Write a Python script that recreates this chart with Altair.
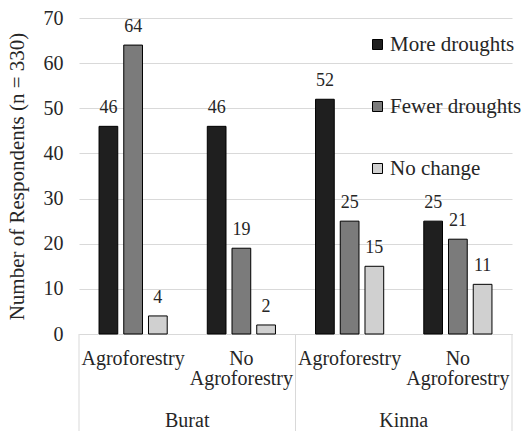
import altair as alt
import pandas as pd

# Survey counts per site / land-use group and perceived drought trend
sites = ["Burat", "Burat", "Kinna", "Kinna"]
groups = ["Agroforestry", "No Agroforestry", "Agroforestry", "No Agroforestry"]
series = ["More droughts", "Fewer droughts", "No change"]
more_droughts = [46, 46, 52, 25]
fewer_droughts = [64, 19, 25, 21]
no_change = [4, 2, 15, 11]

colors = ["#1f1f1f", "#7b7b7b", "#d0d0d0"]
FONT = "Liberation Serif"
TXT = "#262626"

keys = [f"{s}|{g}" for s, g in zip(sites, groups)]

rows = []
for i, k in enumerate(keys):
    for name, vals in zip(series, [more_droughts, fewer_droughts, no_change]):
        rows.append({"key": k, "series": name, "value": vals[i], "order": series.index(name)})
df = pd.DataFrame(rows)

labels_df = pd.DataFrame({
    "key": keys,
    "label": ["No\nAgroforestry" if g == "No Agroforestry" else g for g in groups],
})
site_df = pd.DataFrame({"key": ["Burat|No Agroforestry", "Kinna|No Agroforestry"],
                        "label": ["Burat", "Kinna"]})
div_start = pd.DataFrame({"key": ["Burat|Agroforestry", "Kinna|Agroforestry"]})
div_end = pd.DataFrame({"key": ["Kinna|No Agroforestry"]})

W, H = 433, 316

x_scale = alt.Scale(domain=keys, paddingInner=0, paddingOuter=0)
x_enc = alt.X("key:N", scale=x_scale,
              axis=alt.Axis(labels=False, ticks=False, title=None,
                            domain=True, domainColor="#d9d9d9", domainWidth=1))
off = alt.XOffset("series:N", sort=series,
                  scale=alt.Scale(domain=series, paddingInner=0.243, paddingOuter=0.81))

y_enc = alt.Y("value:Q",
              scale=alt.Scale(domain=[0, 70], nice=False),
              axis=alt.Axis(values=list(range(0, 71, 10)), grid=True, gridColor="#d9d9d9",
                            domain=False, ticks=False, labelPadding=16,
                            labelFont=FONT, labelFontSize=20, labelColor=TXT,
                            title="Number of Respondents (n = 330)",
                            titleFont=FONT, titleFontSize=21, titleFontWeight="normal",
                            titleColor=TXT, titleX=-62, titleY=H / 2,
                            titleBaseline="middle", titleAlign="center", titleAngle=-90))

base = alt.Chart(df)

bars = base.mark_bar(stroke="black", strokeWidth=1).encode(
    x=x_enc,
    xOffset=off,
    y=y_enc,
    color=alt.Color("series:N", sort=series,
                    scale=alt.Scale(domain=series, range=colors),
                    legend=alt.Legend(title=None, orient="none", legendX=288, legendY=16,
                                      direction="vertical", symbolType="square",
                                      symbolSize=100, symbolStrokeColor="black",
                                      symbolStrokeWidth=1, labelFont=FONT,
                                      labelFontSize=21, labelColor=TXT,
                                      labelOffset=2, rowPadding=40, padding=0)),
)

values = base.mark_text(font=FONT, fontSize=18, color=TXT, dy=-13,
                        baseline="alphabetic").encode(
    x=alt.X("key:N", scale=x_scale),
    xOffset=off,
    y="value:Q",
    text="value:Q",
)

cat_labels = alt.Chart(labels_df).mark_text(
    font=FONT, fontSize=20, color=TXT, baseline="alphabetic", lineBreak="\n",
    lineHeight=20,
).encode(x=alt.X("key:N", scale=x_scale), y=alt.value(H + 31), text="label:N")

site_labels = alt.Chart(site_df).mark_text(
    font=FONT, fontSize=20, color=TXT, baseline="alphabetic",
).encode(x=alt.X("key:N", scale=x_scale, bandPosition=0), y=alt.value(H + 93),
         text="label:N")

rule_start = alt.Chart(div_start).mark_rule(color="#d9d9d9", strokeWidth=1).encode(
    x=alt.X("key:N", scale=x_scale, bandPosition=0),
    y=alt.value(H), y2=alt.value(H + 100))
rule_end = alt.Chart(div_end).mark_rule(color="#d9d9d9", strokeWidth=1).encode(
    x=alt.X("key:N", scale=x_scale, bandPosition=1),
    y=alt.value(H), y2=alt.value(H + 100))

chart = alt.layer(bars, values, cat_labels, site_labels, rule_start, rule_end).properties(
    width=W, height=H,
    autosize=alt.AutoSizeParams(type="none"),
    padding={"left": 79, "top": 18, "right": 15, "bottom": 97},
    background="white",
).configure(font=FONT).configure_view(strokeWidth=0)

chart.save("out.html", embed_options={"renderer": "svg", "actions": False})
